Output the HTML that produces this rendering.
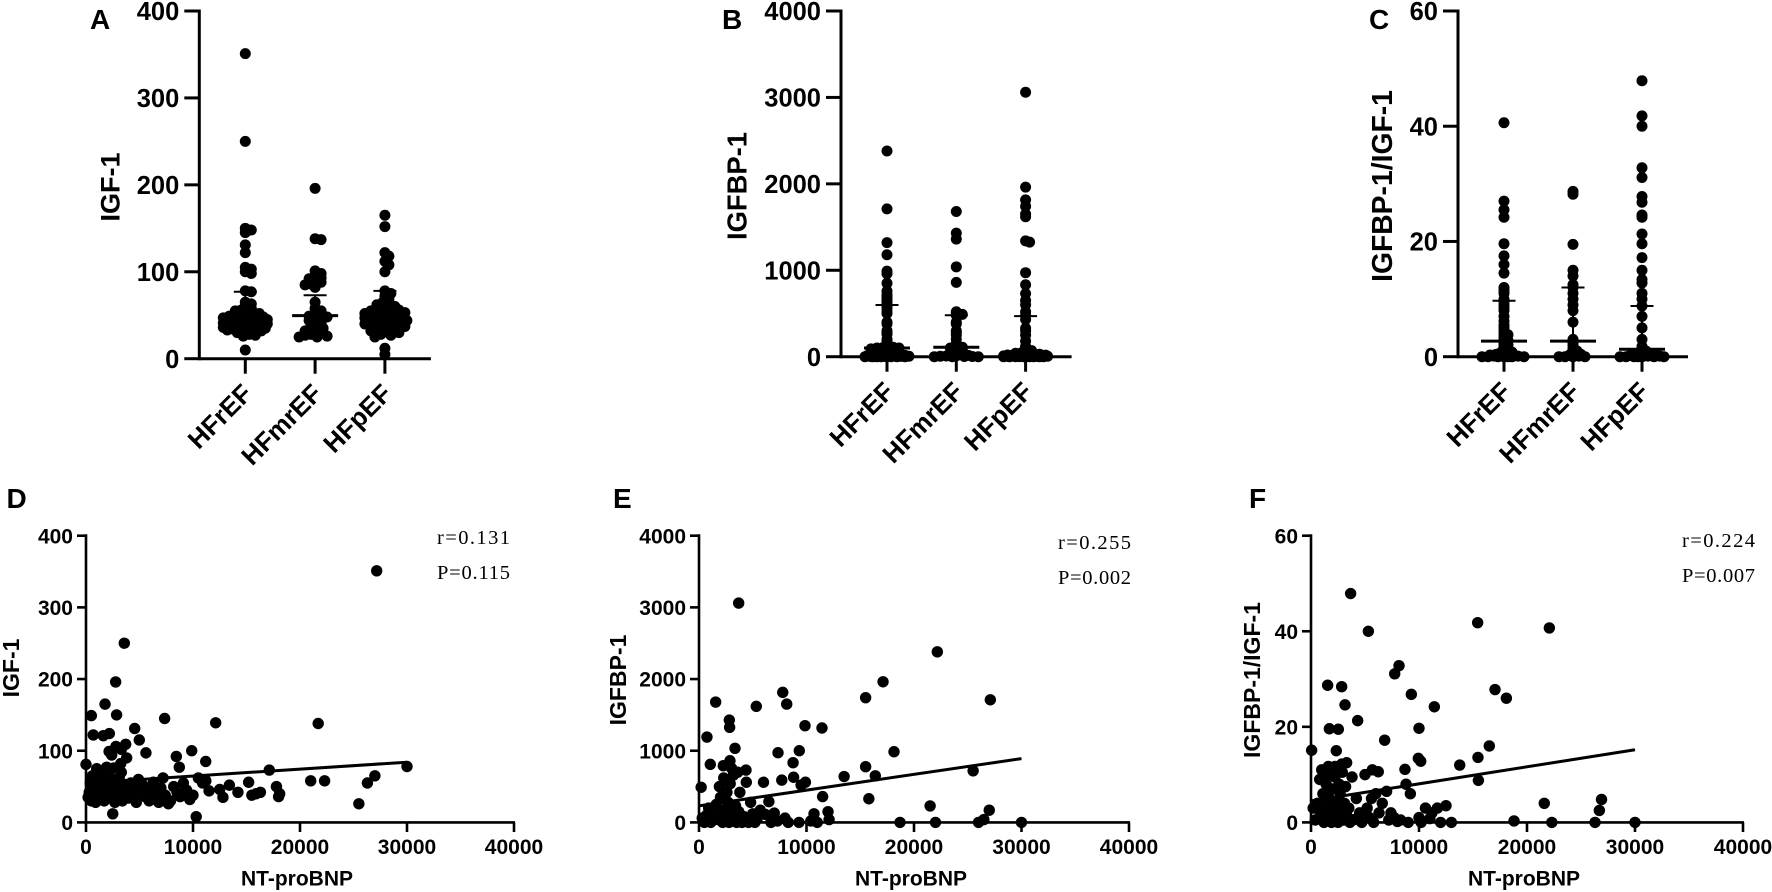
<!DOCTYPE html>
<html lang="en">
<head>
<meta charset="utf-8">
<title>IGF-1, IGFBP-1 and NT-proBNP in heart failure groups</title>
<style>
html,body{margin:0;padding:0;background:#fff;}
svg{display:block;font-family:"Liberation Sans",Arial,sans-serif;}
</style>
</head>
<body>
<svg id="figure" xmlns="http://www.w3.org/2000/svg" width="1772" height="892" viewBox="0 0 1772 892"></svg>
<script>
// ---------- categories and tick labels ----------
const groupNames = ['HFrEF', 'HFmrEF', 'HFpEF'];
const ticksIgf = [0, 100, 200, 300, 400];
const ticksBp = [0, 1000, 2000, 3000, 4000];
const ticksRatio = [0, 20, 40, 60];
const ticksProbnp = [0, 10000, 20000, 30000, 40000];

// ---------- panel A: IGF-1 by group ----------
const igfHFrEF = [351,250,150,148,145,131,122,105,103,100,98,78,77,65,63,60,58,56,55,54,53,52,51,50,49,49,48,48,47,47,46,46,45,45,44,44,43,43,42,42,41,41,40,40,39,38,38,37,36,36,35,35,34,34,33,33,32,31,30,28,27,26,10];
const igfHFmrEF = [196,138,137,101,98,95,93,92,90,88,86,85,82,65,58,55,52,50,49,48,47,45,44,42,40,38,36,35,33,32,30,30,28,27,26,25,25];
const igfHFpEF = [165,152,122,118,112,108,100,78,75,72,68,65,63,62,60,60,58,57,56,55,55,54,53,52,52,51,50,50,49,48,48,47,46,45,45,44,43,42,42,41,40,40,39,38,37,36,35,34,33,32,31,30,28,27,25,12,5];
const igfMedian = [47.6, 49.6, 51];
const igfUpper = [77, 73, 78];
const igfLower = [33, 33, 36];

// ---------- panel B: IGFBP-1 by group ----------
const bpHFrEF = [2380,1710,1320,1180,990,960,850,760,720,700,680,660,640,620,600,580,560,520,500,400,380,300,280,260,200,180,120,110,105,100,100,95,90,80,70,60,50,45,40,35,30,25,20,20,15,15,10,10,8,6,5,4,3,2,1,0,0,0,0,0,0,0,0];
const bpHFmrEF = [1680,1430,1360,1040,860,520,500,490,480,400,380,300,280,250,200,150,120,110,100,100,90,70,60,50,40,30,25,20,15,10,8,5,3,2,0,0,0];
const bpHFpEF = [3060,1962,1814,1740,1651,1619,1340,1326,972,833,730,650,600,520,480,430,330,300,250,180,120,100,80,70,60,50,45,40,35,30,28,25,22,20,18,15,14,12,10,9,8,7,6,5,4,3,2,1,0,0,0,0,0,0,0,0,0];
const bpMedian = [100, 110, 50];
const bpUpper = [598, 480, 470];
const bpLower = [15, 15, 8];

// ---------- panel C: IGFBP-1/IGF-1 by group ----------
const ratioHFrEF = [40.6,27,25.5,24.2,19.6,17.5,16,14.5,12,11.5,11,10,9.5,9,8.5,8,7,6.2,5.5,5,4.5,4,3.8,3.5,3,2.8,2.5,2.2,2,1.8,1.5,1.2,1,0.9,0.8,0.7,0.6,0.5,0.4,0.4,0.3,0.3,0.2,0.2,0.1,0.1,0,0,0,0,0,0,0];
const ratioHFmrEF = [28.7,28.2,19.5,15,14,12.5,12,11,10,9,8,6,3,2.5,2,1.5,1.2,1,0.8,0.6,0.5,0.4,0.3,0.2,0.1,0,0,0,0];
const ratioHFpEF = [47.9,41.8,40,32.8,31.1,27.8,26.8,24.6,24.2,21.3,19.6,17.2,15,13.4,12.8,11,10,8.8,7,5,3,1.8,1.5,1.2,1,0.8,0.6,0.5,0.4,0.4,0.3,0.3,0.2,0.2,0.1,0.1,0,0,0,0,0,0,0];
const ratioMedian = [2.7, 2.7, 1.3];
const ratioUpper = [9.7, 12, 8.8];
const ratioLower = [0.3, 0.3, 0.2];

// ---------- panel D: NT-proBNP vs IGF-1 ----------
const dProbnp = [27170,3580,2770,1780,500,2860,7350,12120,21700,4550,4980,680,1620,2180,5600,3710,2800,3300,2160,2400,9880,8440,11190,0,8720,3240,1000,1930,17130,30000,
200,300,400,500,600,700,800,900,1000,1100,1200,1300,1400,1500,1600,1700,1800,1900,2000,2100,2200,2300,2400,2500,2600,2700,2800,2900,3000,3100,3200,3300,3400,3500,3600,3800,4000,4200,4400,4500,4700,4900,5100,5300,5500,5700,5900,6100,6300,6500,6800,7000,7200,7400,7700,7900,8200,8500,8800,9100,9400,9700,10000,10300,10500,10900,11200,11500,12500,12800,13400,14200,15200,15500,15900,16300,17800,18000,18100,25500,26300,27000,21000,22300];
const dIgf = [351,250,196,165,149,150,145,139,138,131,115,122,121,124,97,109,106,102,99,94,100,92,85,81,77,82,75,77,73,78,
35,42,55,30,65,48,38,28,60,52,44,35,72,58,40,30,66,50,45,34,56,62,42,12,76,28,48,36,55,62,40,70,30,52,44,90,34,55,48,38,28,60,45,52,36,42,30,50,56,40,28,48,62,38,26,30,50,42,36,55,45,32,38,8,62,55,58,44,46,35,52,42,56,38,40,42,50,36,40,26,55,65,58,58];
const dLineX = [0, 30000];
const dLineY = [55, 84];

// ---------- panel E: NT-proBNP vs IGFBP-1 ----------
const eProbnp = [3690,22170,17120,7790,15500,27100,1550,8160,5330,2820,2850,9860,11440,740,3350,9330,18140,7350,8750,1050,2260,2880,15500,4370,3040,
200,300,500,700,900,1000,1100,1200,1400,1600,1800,1900,2000,2100,2200,2300,2400,2500,2600,2700,2800,2900,3000,3100,3200,3300,3400,3500,3600,3700,3800,3900,4000,4200,4400,4600,4800,5000,5200,5400,5700,6000,6200,6500,6700,7000,7300,7700,8000,8300,8800,9300,9500,9900,10400,10700,11000,11500,12000,12100,13500,15800,16400,18700,21500,22000,25500,26000,27000,26500,30000];
const eBp = [3060,2380,1962,1814,1740,1711,1679,1651,1619,1428,1326,1349,1317,1191,1034,1000,986,972,833,810,791,860,777,730,754,
490,60,0,100,200,30,0,70,150,250,40,500,350,110,0,620,180,60,420,280,0,540,130,90,660,30,230,0,700,150,420,60,0,80,560,0,280,120,0,50,170,560,110,290,0,130,20,590,60,0,630,0,520,560,20,120,0,360,150,40,640,330,650,0,230,0,720,0,170,40,0];
const eLineX = [0, 30000];
const eLineY = [230, 890];

// ---------- panel F: NT-proBNP vs IGFBP-1/IGF-1 ----------
const fProbnp = [3670,5310,15430,22070,8150,7750,1540,2840,9290,17040,18090,3150,11420,4320,1700,2530,10000,6820,16510,60,2340,15460,9940,10160,13770,3300,2840,2220,1600,990,5680,6230,8700,
200,400,600,800,900,1000,1100,1200,1300,1400,1500,1600,1700,1800,1900,2000,2100,2200,2300,2400,2500,2600,2700,2800,2900,3000,3100,3200,3300,3500,3600,3800,4000,4200,4500,4700,5000,5200,5400,5600,5800,6000,6300,6600,7000,7200,7400,7700,8000,8300,8800,9000,9200,10000,10200,10600,11000,11200,11700,12000,12500,13000,15500,18800,21600,22300,26300,26700,26900,30000];
const fRatio = [47.9,40,41.8,40.7,32.8,31.1,28.7,28.4,26.8,27.8,26,24.6,24.2,21.3,19.6,19.5,19.7,17.2,16,15.1,15,13.6,13.4,12.8,12,12.5,12.2,11.7,11.7,11,11,10.6,11.1,
3,0.5,4,9,2,1,6,0,3.5,8,0.8,10,5,2,0,7,3,9.5,1,4.5,0,8,6,2.5,10.5,0.5,4,7.5,1.5,3,0,9.5,0.6,5,2,0,10,3,1,5,0,6,2,4,6.5,0.5,2,1,0.2,0.5,8,0,6,1,0,3,0.8,2,3,0,3.5,0,8.8,0.3,4,0,0,2.5,4.8,0];
const fLineX = [0, 30000];
const fLineY = [4.5, 15.2];

// ---------- drawing helpers ----------
const SVGNS = 'http://www.w3.org/2000/svg';
const root = document.getElementById('figure');

function line(parent, name, x1, y1, x2, y2, w) {
  const el = document.createElementNS(SVGNS, 'line');
  
  
  el.setAttribute('x1', x1);
  el.setAttribute('y1', y1);
  el.setAttribute('x2', x2);
  el.setAttribute('y2', y2);
  el.setAttribute('stroke', '#000');
  el.setAttribute('stroke-width', w);
  el.setAttribute('stroke-linecap', 'butt');
  parent.appendChild(el);
  return el;
}
function label(parent, name, str, x, y, size, anchor, rotate, weight, family) {
  const el = document.createElementNS(SVGNS, 'text');
  
  
  el.setAttribute('x', x);
  el.setAttribute('y', y);
  el.setAttribute('font-size', size);
  el.setAttribute('font-weight', weight || 'bold');
  el.setAttribute('text-anchor', anchor);
  el.setAttribute('fill', '#000');
  if (family) el.setAttribute('font-family', family);
  if (rotate) el.setAttribute('transform', 'rotate(' + rotate + ' ' + x + ' ' + y + ')');
  el.textContent = str;
  parent.appendChild(el);
  return el;
}
function dot(parent, name, cx, cy, r) {
  const el = document.createElementNS(SVGNS, 'circle');
  
  
  el.setAttribute('cx', cx);
  el.setAttribute('cy', cy);
  el.setAttribute('r', r);
  el.setAttribute('fill', '#000');
  parent.appendChild(el);
  return el;
}
function group(name) {
  const g = document.createElementNS(SVGNS, 'g');
  
  
  root.appendChild(g);
  return g;
}

// Lay points out symmetrically around the category centre, from their pixel heights.
// yWeight > 1 keeps vertically separated points in a narrow column.
function swarm(ys, minDist, half, yWeight) {
  const step = 2;
  const placed = [];
  return ys.map(function (y) {
    let best = 0, bestScore = -1;
    const cands = [0];
    for (let d = step; d <= half; d += step) { cands.push(d); cands.push(-d); }
    for (const dx of cands) {
      let nearest = 1e9;
      for (const p of placed) {
        const dist = Math.hypot(p[0] - dx, (p[1] - y) * yWeight);
        if (dist < nearest) nearest = dist;
      }
      if (nearest >= minDist) { best = dx; bestScore = nearest; break; }
      if (nearest > bestScore) { best = dx; bestScore = nearest; }
    }
    placed.push([best, y]);
    return best;
  });
}

function swarmPanel(o) {
  const g = group(o.id + '-panel');
  const sy = function (v) { return o.y0 + (o.yTop - o.y0) * (v / o.ticks[o.ticks.length - 1]); };
  const cx = function (i) { return o.axisX + 46 + i * o.gap; };
  const xEnd = cx(2) + 46;
  label(g, 'panel-letter-' + o.id, o.id, o.letterX, 29, 28, 'start');
  label(g, 'y-axis-title', o.title, o.titleX, o.titleY, o.titleSize, 'middle', -90);
  line(g, 'y-axis-line', o.axisX, o.yTop - 1.5, o.axisX, o.y0 + 1.5, 3);
  line(g, 'x-axis-line', o.axisX, o.y0, xEnd, o.y0, 3);
  o.ticks.forEach(function (t) {
    line(g, 'y-tick', o.axisX - 15, sy(t), o.axisX, sy(t), 3);
    label(g, 'y-tick-label', String(t), o.axisX - 20, sy(t) + 9.2, 25.5, 'end');
  });
  groupNames.forEach(function (n, i) {
    const x = cx(i);
    line(g, 'x-tick', x, o.y0, x, o.y0 + 15, 3);
    label(g, 'x-tick-label-' + n, n, x + 8.5, o.y0 + 36.5, 26, 'end', -45);
    const ys = o.series[i].map(sy);
    const off = swarm(ys, o.minDist, 23, o.yWeight);
    ys.forEach(function (y, k) { dot(g, 'point-' + n, x + off[k], y, 5.5); });
    line(g, 'median-bar-' + n, x - 23, sy(o.median[i]), x + 23, sy(o.median[i]), 3);
    line(g, 'error-whisker-' + n, x, sy(o.upper[i]), x, sy(o.lower[i]), 2);
    line(g, 'upper-cap-' + n, x - 11.5, sy(o.upper[i]), x + 11.5, sy(o.upper[i]), 2);
    line(g, 'lower-cap-' + n, x - 11.5, sy(o.lower[i]), x + 11.5, sy(o.lower[i]), 2);
  });
}

function scatterPanel(o) {
  const g = group(o.id + '-panel');
  const yMax = o.yTicks[o.yTicks.length - 1];
  const xMax = ticksProbnp[ticksProbnp.length - 1];
  const sy = function (v) { return 822.4 + (535.7 - 822.4) * (v / yMax); };
  const sx = function (v) { return o.axisX + (o.xEnd - o.axisX) * (v / xMax); };
  label(g, 'panel-letter-' + o.id, o.id, o.letterX, 508, 28, 'start');
  label(g, 'y-axis-title', o.title, o.titleX, o.titleY, 23, 'middle', -90);
  line(g, 'y-axis-line', o.axisX, 534.2, o.axisX, 823.9, 2.6);
  line(g, 'x-axis-line', o.axisX, 822.4, o.xEnd + 1, 822.4, 2.6);
  o.yTicks.forEach(function (t) {
    line(g, 'y-tick', o.axisX - 9, sy(t), o.axisX, sy(t), 2.6);
    label(g, 'y-tick-label', String(t), o.axisX - 13, sy(t) + 7.6, 21, 'end');
  });
  ticksProbnp.forEach(function (t) {
    line(g, 'x-tick', sx(t), 822.4, sx(t), 832, 2.6);
    label(g, 'x-tick-label', String(t), sx(t), 854, 21, 'middle');
  });
  label(g, 'x-axis-title', 'NT-proBNP', sx(xMax / 2) - 3, 885.5, 21, 'middle');
  o.xs.forEach(function (v, k) { dot(g, 'scatter-point', sx(v), sy(o.ys[k]), 5.7); });
  line(g, 'trend-line', sx(o.lineX[0]), sy(o.lineY[0]), sx(o.lineX[1]), sy(o.lineY[1]), 3);
  const r = label(g, 'correlation-r', o.r, o.noteX, o.noteY, 20.5, 'start', 0, 'normal', '"Liberation Serif","Noto Serif CJK SC",serif');
  r.setAttribute('textLength', 73);
  const p = label(g, 'correlation-p', o.p, o.noteX, o.noteY + 35, 20.5, 'start', 0, 'normal', '"Liberation Serif","Noto Serif CJK SC",serif');
  p.setAttribute('textLength', 73);
}

swarmPanel({ id: 'A', title: 'IGF-1', ticks: ticksIgf, axisX: 199.3, gap: 69.8, y0: 358.7, yTop: 11,
  letterX: 90, titleX: 119.5, titleY: 187, titleSize: 27, minDist: 6, yWeight: 1.5,
  series: [igfHFrEF, igfHFmrEF, igfHFpEF], median: igfMedian, upper: igfUpper, lower: igfLower });
swarmPanel({ id: 'B', title: 'IGFBP-1', ticks: ticksBp, axisX: 841, gap: 69.3, y0: 356.7, yTop: 11,
  letterX: 722, titleX: 746.5, titleY: 186, titleSize: 27.4, minDist: 5, yWeight: 3,
  series: [bpHFrEF, bpHFmrEF, bpHFpEF], median: bpMedian, upper: bpUpper, lower: bpLower });
swarmPanel({ id: 'C', title: 'IGFBP-1/IGF-1', ticks: ticksRatio, axisX: 1458, gap: 69, y0: 356.7, yTop: 11,
  letterX: 1369, titleX: 1392, titleY: 186, titleSize: 28.3, minDist: 5, yWeight: 3,
  series: [ratioHFrEF, ratioHFmrEF, ratioHFpEF], median: ratioMedian, upper: ratioUpper, lower: ratioLower });

scatterPanel({ id: 'D', title: 'IGF-1', yTicks: ticksIgf, axisX: 86, xEnd: 514, letterX: 6.5, titleX: 19, titleY: 668,
  xs: dProbnp, ys: dIgf, lineX: dLineX, lineY: dLineY, r: 'r=0.131', p: 'P=0.115', noteX: 437, noteY: 544 });
scatterPanel({ id: 'E', title: 'IGFBP-1', yTicks: ticksBp, axisX: 699, xEnd: 1129, letterX: 613, titleX: 626, titleY: 680,
  xs: eProbnp, ys: eBp, lineX: eLineX, lineY: eLineY, r: 'r=0.255', p: 'P=0.002', noteX: 1058, noteY: 549 });
scatterPanel({ id: 'F', title: 'IGFBP-1/IGF-1', yTicks: ticksRatio, axisX: 1311, xEnd: 1743, letterX: 1249, titleX: 1260, titleY: 680,
  xs: fProbnp, ys: fRatio, lineX: fLineX, lineY: fLineY, r: 'r=0.224', p: 'P=0.007', noteX: 1682, noteY: 547 });
</script>
</body>
</html>
